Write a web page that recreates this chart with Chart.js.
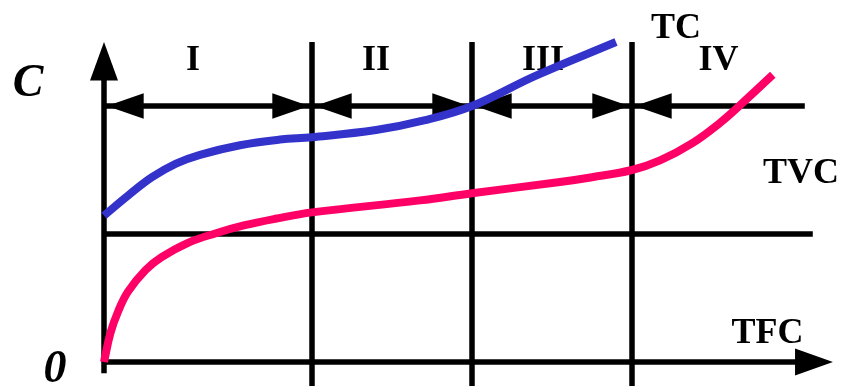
<!DOCTYPE html>
<html>
<head>
<meta charset="utf-8">
<script src="https://cdn.jsdelivr.net/npm/chart.js@4.4.1/dist/chart.umd.min.js"></script>
<style>
  html, body { margin: 0; padding: 0; background: #fff; }
  #wrap { width: 844px; height: 386px; position: relative; }
</style>
</head>
<body>
<div id="wrap"><canvas id="cost-chart"></canvas></div>
<script>
// ── Data (output Q on x, cost C on y) ──────────────────────────────
const tcQ    = [0, 1.5, 3, 4.5, 6, 8.5, 11, 13, 17, 20, 23, 27, 32];
const tcCost = [9.15, 10.4, 11.55, 12.4, 12.95, 13.55, 13.9, 14.05, 14.5, 15.1, 16, 17.9, 20.0];

const tvcQ    = [0, 0.4, 0.9, 1.5, 2.6, 3.6, 5.25, 7, 8.8, 10.7, 13, 19.75, 23, 28.5, 30.5, 33, 34.75, 36.8, 38.5, 39.75, 41.8];
const tvcCost = [0, 1.8, 3.2, 4.4, 5.75, 6.55, 7.45, 8.05, 8.55, 8.95, 9.35, 10.1, 10.55, 11.25, 11.55, 12.0, 12.6, 13.7, 14.95, 16.05, 17.95];

const tfcLevel = 8;
const stageBounds = [0, 13, 23, 33];
const stageArrowEnd = 43.8;
const stageLabels = ['I', 'II', 'III', 'IV'];

// ── Frame geometry (data units) ────────────────────────────────────
const X_MIN = -6.5, X_MAX = 46.25, Y_MIN = -1.5, Y_MAX = 22.625;
const BLACK = '#000';

function seg(points) {
  return {
    data: points.map(([x, y]) => ({ x, y })),
    borderColor: BLACK, borderWidth: 5.5, pointRadius: 0,
    fill: false, tension: 0, order: 2, clip: false,
  };
}

function head(tipX, tipY, dir, len, half) {
  // dir: 'l','r','u'
  let pts;
  if (dir === 'r') pts = [[tipX, tipY], [tipX - len, tipY + half], [tipX - len, tipY - half]];
  else if (dir === 'l') pts = [[tipX, tipY], [tipX + len, tipY + half], [tipX + len, tipY - half]];
  else pts = [[tipX, tipY], [tipX - half, tipY - len], [tipX + half, tipY - len]];
  pts.push(pts[0]);
  return {
    data: pts.map(([x, y]) => ({ x, y })),
    borderWidth: 0, borderColor: BLACK, backgroundColor: BLACK,
    pointRadius: 0, fill: 'shape', tension: 0, order: 2, clip: false,
  };
}

const frame = [];
// axes
frame.push(seg([[0, -0.7], [0, 18.2]]));
frame.push(head(0, 20.0, 'u', 2.4, 0.875));
frame.push(seg([[0, 0], [44, 0]]));
frame.push(head(45.56, 0, 'r', 2.37, 0.84));
// TFC level
frame.push(seg([[0, tfcLevel], [44.3, tfcLevel]]));
// stage boundaries
stageBounds.slice(1).forEach(q => frame.push(seg([[q, Y_MIN], [q, 20.0]])));
// stage arrows
const arrowY = 16;
frame.push(seg([[0, arrowY], [stageArrowEnd, arrowY]]));
stageBounds.forEach((q, i) => {
  const next = stageBounds[i + 1];
  frame.push(head(q + 0.18, arrowY, 'l', 2.3, 0.8));
  if (next !== undefined) frame.push(head(next - 0.18, arrowY, 'r', 2.3, 0.8));
});

const curves = [
  {
    label: 'TC',
    data: tcQ.map((q, i) => ({ x: q, y: tcCost[i] })),
    borderColor: '#3333cc', borderWidth: 8, pointRadius: 0,
    tension: 0.4, fill: false, order: 0, clip: false,
  },
  {
    label: 'TVC',
    data: tvcQ.map((q, i) => ({ x: q, y: tvcCost[i] })),
    borderColor: '#ff0066', borderWidth: 8, pointRadius: 0,
    tension: 0.4, fill: false, order: 0, clip: false,
  },
];

// ── Text labels ────────────────────────────────────────────────────
const SERIF = '"Liberation Serif", "Times New Roman", serif';
const texts = [
  { text: 'C',   x: -4.75, y: 16.62, font: `italic bold 46px ${SERIF}` },
  { text: '0',   x: -3.06, y: -1.25, font: `italic bold 46px ${SERIF}` },
  { text: 'TC',  x: 35.75, y: 20.25, font: `bold 36px ${SERIF}` },
  { text: 'TVC', x: 43.56, y: 11.19, font: `bold 36px ${SERIF}` },
  { text: 'TFC', x: 41.47, y: 1.19,  font: `bold 36px ${SERIF}` },
];
const stageLabelX = [5.56, 17.0, 27.44, 38.4];
stageLabels.forEach((t, i) => texts.push({ text: t, x: stageLabelX[i], y: 18.25, font: `bold 36px ${SERIF}` }));

const textPlugin = {
  id: 'textLabels',
  beforeDatasetsDraw(chart) {
    const { ctx, scales: { x, y } } = chart;
    ctx.save();
    ctx.fillStyle = BLACK;
    ctx.textAlign = 'center';
    ctx.textBaseline = 'alphabetic';
    texts.forEach(t => {
      ctx.font = t.font;
      ctx.fillText(t.text, x.getPixelForValue(t.x), y.getPixelForValue(t.y));
    });
    ctx.restore();
  }
};

new Chart(document.getElementById('cost-chart'), {
  type: 'line',
  data: { datasets: [...curves, ...frame] },
  options: {
    responsive: true,
    maintainAspectRatio: false,
    animation: false,
    layout: { padding: 0 },
    plugins: { legend: { display: false }, tooltip: { enabled: false } },
    scales: {
      x: { type: 'linear', min: X_MIN, max: X_MAX, display: false },
      y: { type: 'linear', min: Y_MIN, max: Y_MAX, display: false },
    },
  },
  plugins: [textPlugin],
});
</script>
</body>
</html>
